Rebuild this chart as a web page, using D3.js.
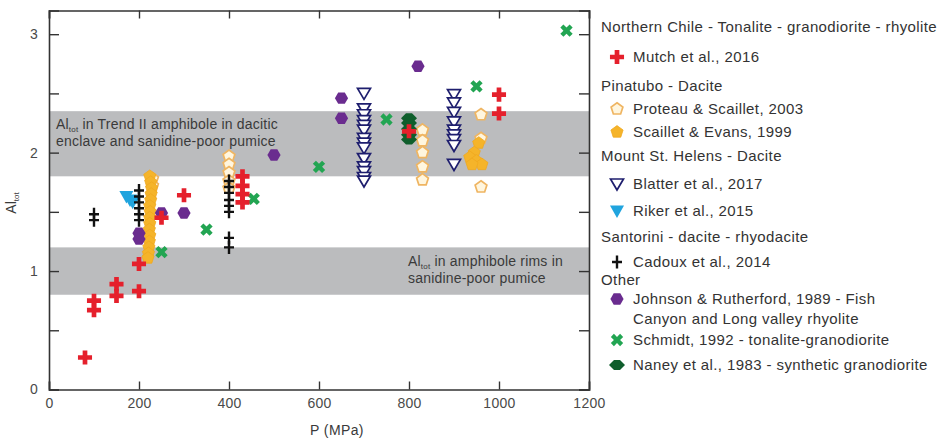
<!DOCTYPE html>
<html><head><meta charset="utf-8">
<script src="https://cdn.jsdelivr.net/npm/d3@7"></script>
<style>
html,body{margin:0;padding:0;background:#fff;}
svg text{font-family:"Liberation Sans",Arial,sans-serif;}
</style></head>
<body><svg id="c" width="946" height="443"></svg>
<script>
// ---- data ----
const xTicks = [0,200,400,600,800,1000,1200];
const yTicks = [0,0.5,1,1.5,2,2.5,3];
const yLabels = [0,1,2,3];
const bands = [[1.8,2.35],[0.8,1.2]];

const mutch = [[80,0.27],[100,0.75],[100,0.67],[150,0.89],[150,0.79],[200,1.06],[200,0.83],[250,1.45],[300,1.64],[430,1.8],[430,1.72],[430,1.65],[430,1.58],[800,2.18],[1000,2.49],[1000,2.33]];
const proteau = [[400,1.97],[400,1.9],[400,1.83],[400,1.76],[400,1.7],[230,1.78],[230,1.72],[830,2.19],[830,2.1],[830,2.0],[830,1.88],[830,1.77],[960,2.32],[960,2.12],[960,1.71]];
const scaillet = [[224,1.8],[226,1.75],[228,1.7],[227,1.65],[226,1.6],[224,1.55],[225,1.5],[224,1.45],[224,1.4],[223,1.35],[224,1.3],[223,1.25],[222,1.2],[221,1.15],[220,1.11],[955,2.08],[945,2.0],[935,1.96],[950,1.93],[962,1.9],[940,1.9]];
const blatter = [[700,2.5],[700,2.37],[700,2.32],[700,2.27],[700,2.23],[700,2.19],[700,2.12],[700,2.08],[700,2.04],[700,1.95],[700,1.88],[700,1.84],[700,1.79],[700,1.76],
                 [900,2.49],[900,2.42],[900,2.34],[900,2.26],[900,2.19],[900,2.15],[900,2.11],[900,2.06],[900,1.9]];
const riker = [[172,1.63],[180,1.6],[186,1.58]];
const cadoux = [[100,1.48],[100,1.43],[200,1.68],[200,1.63],[200,1.58],[200,1.53],[200,1.48],[200,1.43],[400,1.76],[400,1.71],[400,1.66],[400,1.6],[400,1.55],[400,1.5],[400,1.28],[400,1.2]];
const johnson = [[200,1.32],[200,1.27],[250,1.49],[300,1.49],[500,1.98],[650,2.46],[650,2.29],[820,2.73]];
const schmidt = [[250,1.16],[350,1.35],[455,1.61],[600,1.88],[750,2.28],[950,2.56],[1150,3.03]];
const naney = [[800,2.29],[800,2.25],[800,2.2],[800,2.15],[800,2.11]];

const legendRows = [
  ["h","Northern Chile - Tonalite - granodiorite - rhyolite"],
  ["mutch","Mutch et al., 2016"],
  ["h","Pinatubo - Dacite"],
  ["proteau","Proteau & Scaillet, 2003"],
  ["scaillet","Scaillet & Evans, 1999"],
  ["h","Mount St. Helens - Dacite"],
  ["blatter","Blatter et al., 2017"],
  ["riker","Riker et al., 2015"],
  ["h","Santorini - dacite - rhyodacite"],
  ["cadoux","Cadoux et al., 2014"],
  ["h","Other"],
  ["johnson","Johnson & Rutherford, 1989 - Fish"],
  ["t","Canyon and Long valley rhyolite"],
  ["schmidt","Schmidt, 1992 - tonalite-granodiorite"],
  ["naney","Naney et al., 1983 - synthetic granodiorite"]
];
const legendY = [27,57,86,109,132,156,184,211,237,262,280,299,319,340,365];

// ---- drawing ----
const svg = d3.select("#c");
const x = d3.scaleLinear().domain([0,1200]).range([49,589]);
const y = d3.scaleLinear().domain([0,3.2]).range([389.5,10.5]);

// bands
svg.append("g").selectAll("rect").data(bands).join("rect")
  .attr("x",x(0)).attr("width",x(1200)-x(0))
  .attr("y",d=>y(d[1])).attr("height",d=>y(d[0])-y(d[1]))
  .attr("fill","#bbbcbe");

// band labels
function alLabel(g, xx, yy, rest){
  const t = g.append("text").attr("x",xx).attr("y",yy).attr("font-size",14).attr("fill","#3a3a3a").attr("letter-spacing","0.2px");
  t.append("tspan").text("Al");
  t.append("tspan").attr("font-size",8).attr("dy",3).text("tot");
  t.append("tspan").attr("dy",-3).text(rest);
}
const bl = svg.append("g");
alLabel(bl, 56, 129, " in Trend II amphibole in dacitic");
bl.append("text").attr("x",56).attr("y",146).attr("font-size",14).attr("fill","#3a3a3a").attr("letter-spacing","0.2px").text("enclave and sanidine-poor pumice");
alLabel(bl, 408, 266, " in amphibole rims in");
bl.append("text").attr("x",408).attr("y",283).attr("font-size",14).attr("fill","#3a3a3a").attr("letter-spacing","0.2px").text("sanidine-poor pumice");

// axes
const axCol = "#333";
const gb = svg.append("g").attr("transform",`translate(0,${y(0)})`)
  .call(d3.axisBottom(x).tickValues(xTicks).tickSize(-8).tickPadding(9).tickFormat(d3.format("d")));
const gt = svg.append("g").attr("transform",`translate(0,${y(3.2)})`)
  .call(d3.axisTop(x).tickValues(xTicks).tickSize(-8).tickFormat(""));
const gl = svg.append("g").attr("transform",`translate(${x(0)},0)`)
  .call(d3.axisLeft(y).tickValues(yTicks).tickSize(-10).tickPadding(11).tickFormat(d=>yLabels.includes(d)?d3.format("d")(d):""));
const gr = svg.append("g").attr("transform",`translate(${x(1200)},0)`)
  .call(d3.axisRight(y).tickValues(yTicks).tickSize(-10).tickFormat(""));
[gb,gt,gl,gr].forEach(g=>{
  g.select(".domain").attr("stroke",axCol).attr("stroke-width",1.6);
  g.selectAll(".tick line").attr("stroke",axCol).attr("stroke-width",1.4);
  g.selectAll(".tick text").attr("font-size",14).attr("fill","#4a4a4a").attr("letter-spacing","0.3px")
   .style("font-family","'Liberation Sans',Arial,sans-serif");
});

svg.append("text").attr("x",337).attr("y",435).attr("text-anchor","middle").attr("font-size",14)
  .attr("fill","#3a3a3a").attr("letter-spacing","0.4px").text("P (MPa)");
const yl = svg.append("text").attr("transform","translate(16,203) rotate(-90)").attr("text-anchor","middle")
  .attr("font-size",14).attr("fill","#3a3a3a");
yl.append("tspan").text("Al");
yl.append("tspan").attr("font-size",8).attr("dy",3).text("tot");

// marker shapes
function poly(n, r, rot, sx=1){
  const pts = d3.range(n).map(i=>{const a=rot+i*2*Math.PI/n; return [sx*r*Math.cos(a), r*Math.sin(a)];});
  return "M"+pts.map(p=>p.join(",")).join("L")+"Z";
}
const styles = {
  mutch:   {d:d3.symbol(d3.symbolCross,110)(), fill:"#e5202c", stroke:"none"},
  proteau: {d:poly(5,6.2,-Math.PI/2), fill:"#fff6df", stroke:"#efb562", sw:1.7},
  scaillet:{d:poly(5,6.4,-Math.PI/2), fill:"#f5b42a", stroke:"#f0a820", sw:0.8},
  blatter: {d:"M-6.5,-5L6.5,-5L0,6Z", fill:"#fff", stroke:"#1e1e6e", sw:1.7},
  riker:   {d:"M-7,-5.5L7,-5.5L0,7Z", fill:"#20a4de", stroke:"none"},
  cadoux:  {d:"M-5,0L5,0M0,-6.5L0,6.5", fill:"none", stroke:"#111", sw:2.4},
  johnson: {d:poly(6,6.6,0), fill:"#6a2c8f", stroke:"none"},
  schmidt: {d:d3.symbol(d3.symbolCross,95)(), fill:"#22a552", stroke:"none", rot:45},
  naney:   {d:"M-8,0L-3,-5L3,-5L8,0L3,5L-3,5Z", fill:"#0f5e2c", stroke:"none"}
};
const series = [["proteau",proteau],["scaillet",scaillet],["blatter",blatter],["riker",riker],["johnson",johnson],["schmidt",schmidt],["naney",naney],["mutch",mutch],["cadoux",cadoux]];
function applyStyle(sel, s){
  sel.attr("d",s.d).attr("fill",s.fill).attr("stroke",s.stroke).attr("stroke-width",s.sw||0);
}
const pg = svg.append("g");
series.forEach(([k,data])=>{
  const s = styles[k];
  pg.append("g").selectAll("path").data(data).join("path")
    .attr("transform",d=>`translate(${x(d[0])},${y(d[1])})${s.rot?` rotate(${s.rot})`:""}`)
    .call(sel=>applyStyle(sel,s));
});

// legend
const lg = svg.append("g");
const lfs = 15, lls = "0.4px";
legendRows.forEach((r,i)=>{
  const yy = legendY[i];
  if(r[0]==="h"){
    lg.append("text").attr("x",601).attr("y",yy+5).attr("font-size",lfs).attr("fill","#333").attr("letter-spacing",lls).text(r[1]);
  } else {
    if(r[0]!=="t"){
      const s = styles[r[0]];
      lg.append("path").attr("transform",`translate(617,${yy})${s.rot?` rotate(${s.rot})`:""}`).call(sel=>applyStyle(sel,s));
    }
    lg.append("text").attr("x",633).attr("y",yy+5).attr("font-size",lfs).attr("fill","#333").attr("letter-spacing",lls).text(r[1]);
  }
});
</script></body></html>
